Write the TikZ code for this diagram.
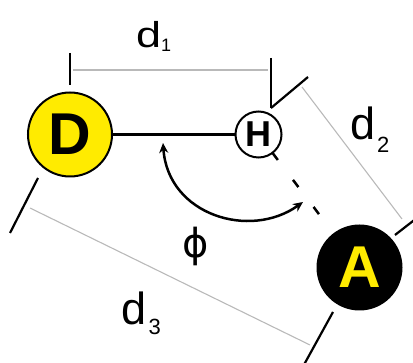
\documentclass[tikz,border=0pt]{standalone}
\usepackage{fontspec}
\setmainfont{Liberation Sans}
\newfontfamily\dejavu{DejaVu Sans}
\usetikzlibrary{arrows.meta,calc}
\definecolor{atomyellow}{RGB}{255,235,0}
\definecolor{dimgray}{RGB}{185,185,185}
\begin{document}
\begin{tikzpicture}[x=1pt,y=-1pt,
  atom/.style={circle,draw=black,line width=2pt,inner sep=0pt,outer sep=0pt},
  bigatom/.style={atom,minimum size=84pt,font=\fontsize{59}{59}\selectfont\bfseries},
  tickline/.style={black,line width=2.2pt},
  dimline/.style={dimgray,line width=1.1pt},
  lbl/.style={anchor=base west,inner sep=0pt,outer sep=0pt,font=\fontsize{45}{45}\selectfont},
  sublbl/.style={anchor=base west,inner sep=0pt,outer sep=0pt,font=\fontsize{22}{22}\selectfont},
  arr/.style={line width=2.5pt,{Stealth[length=10pt,width=9pt]}-{Stealth[length=10pt,width=9pt]}}
]
\useasboundingbox (0,0) rectangle (413,363);
\clip (0,0) rectangle (413,363);

% atoms
\node[bigatom,fill=atomyellow] (D) at (70,134.5) {D};
\node[atom,fill=white,minimum size=46pt,font=\fontsize{36}{36}\selectfont\bfseries] (H) at (258.5,134.5) {H};
\node[bigatom,fill=black,text=atomyellow] (A) at (359.5,267.5) {A};

% bonds
\draw[line width=3pt] (D) -- (H);
\draw[line width=2.5pt,dash pattern=on 9pt off 25pt] (H) -- (A);

% dimension d1
\coordinate (d1a) at (70,53);
\coordinate (d1b) at (70,85);
\coordinate (d1c) at (271,58);
\coordinate (d1d) at (271,108);
\coordinate (d2a) at (308,77);
\draw[tickline] (d1a) -- (d1b);
\draw[tickline] (d1c) -- (d1d);
\draw[tickline] (d1d) -- (d2a);
\coordinate (g1a) at (73,70);
\coordinate (g1b) at (268,70);
\draw[dimline] (g1a) -- (g1b);

% dimension d2
\coordinate (g2a) at (302,87);
\coordinate (g2b) at (402,219);
\draw[dimline] (g2a) -- (g2b);
\coordinate (t2a) at (395,235);
\coordinate (t2b) at (422,214);
\draw[tickline] (t2a) -- (t2b);

% dimension d3
\coordinate (t3a) at (38,178);
\coordinate (t3b) at (10,233);
\draw[tickline] (t3a) -- (t3b);
\coordinate (g3a) at (30,208);
\coordinate (g3b) at (310,345);
\draw[dimline] (g3a) -- (g3b);
\coordinate (t3c) at (333,312);
\coordinate (t3d) at (300,372);
\draw[tickline] (t3c) -- (t3d);

% angle arrow
\coordinate (p1) at (163,143);
\coordinate (p2) at (303,202);
\draw[arr] (p1) .. controls (168,215) and (250,240) .. (p2);

% labels
\node[lbl] (l1) at (136,48) {\scalebox{1}[0.8]{d}};
\node[sublbl,font=\fontsize{18}{18}\selectfont] (s1) at (161,52) {1};
\node[lbl] (l2) at (350.5,140) {d};
\node[sublbl] (s2) at (377,153) {2};
\node[lbl] (l3) at (121.5,325) {d};
\node[sublbl] (s3) at (148.5,335) {3};
\node[inner sep=0pt,font=\dejavu\fontsize{40}{40}\selectfont] (phi) at (196,246) {ϕ};
\end{tikzpicture}
\end{document}
